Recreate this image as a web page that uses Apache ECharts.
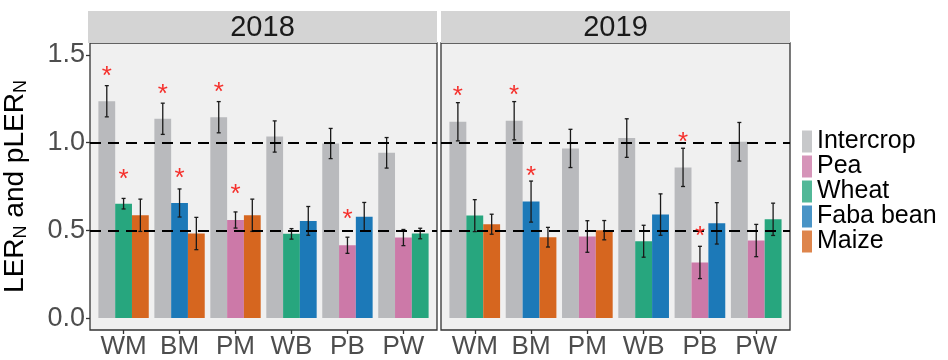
<!DOCTYPE html>
<html><head><meta charset="utf-8">
<script src="https://cdn.jsdelivr.net/npm/echarts@6/dist/echarts.min.js"></script>
<style>html,body{margin:0;padding:0;background:#fff}#c{width:948px;height:360px}</style>
</head><body><div id="c"></div>
<script>
// ---- data ----
const categories = ['WM', 'BM', 'PM', 'WB', 'PB', 'PW'];
const categoryPositions = [1, 2, 3, 4, 5, 6];
const years = ['2018', '2019'];
const cropNames = ['Intercrop', 'Pea', 'Wheat', 'Faba bean', 'Maize'];
const cropColors = ['#b9babd', '#cc79a8', '#27a67e', '#1c79b8', '#d6661f'];
const firstCrop = ['Wheat', 'Faba bean', 'Pea', 'Wheat', 'Pea', 'Pea'];
const secondCrop = ['Maize', 'Maize', 'Maize', 'Faba bean', 'Faba bean', 'Wheat'];

const intercrop2018 = [1.236, 1.136, 1.145, 1.035, 0.995, 0.942];
const intercropSE2018 = [0.089, 0.089, 0.089, 0.089, 0.086, 0.087];
const first2018 = [0.652, 0.656, 0.559, 0.480, 0.415, 0.459];
const firstSE2018 = [0.030, 0.080, 0.046, 0.030, 0.046, 0.046];
const second2018 = [0.586, 0.482, 0.586, 0.554, 0.578, 0.482];
const secondSE2018 = [0.092, 0.092, 0.092, 0.082, 0.081, 0.030];

const intercrop2019 = [1.119, 1.125, 0.967, 1.026, 0.859, 1.005];
const intercropSE2019 = [0.109, 0.109, 0.109, 0.110, 0.109, 0.110];
const first2019 = [0.584, 0.664, 0.465, 0.438, 0.317, 0.442];
const firstSE2019 = [0.091, 0.117, 0.090, 0.091, 0.092, 0.092];
const second2019 = [0.535, 0.461, 0.501, 0.590, 0.540, 0.563];
const secondSE2019 = [0.057, 0.056, 0.055, 0.118, 0.118, 0.092];

// significance stars: [category index (1-based), bar slot (0..2), y value]
const stars2018 = [[1, 0, 1.407], [1, 1, 0.823], [2, 0, 1.308], [2, 1, 0.829], [3, 0, 1.318], [3, 1, 0.734], [5, 1, 0.592]];
const stars2019 = [[1, 0, 1.293], [2, 0, 1.299], [2, 1, 0.838], [5, 0, 1.031], [5, 1, 0.497]];

const yTickValues = [0, 0.5, 1.0, 1.5];
const yTickLabels = ['0.0', '0.5', '1.0', '1.5'];
const referenceLines = [0.5, 1.0];
const yTitle = '{m|LER}{s|N}{m| and pLER}{s|N}';

// ---- layout / style ----
const FONT = 'Liberation Sans, Arial, Helvetica, sans-serif';
const panelLeft = [88, 441];
const panelWidth = 349;
const panelTop = 43;
const panelHeight = 288;
const stripTop = 11;
const stripHeight = 32;
const yMin = -0.068, yMax = 1.568;
const slotWidth = 0.3;

const perYear = [
  { vals: [intercrop2018, first2018, second2018], se: [intercropSE2018, firstSE2018, secondSE2018], stars: stars2018 },
  { vals: [intercrop2019, first2019, second2019], se: [intercropSE2019, firstSE2019, secondSE2019], stars: stars2019 }
];
const slotCrops = [categories.map(() => 'Intercrop'), firstCrop, secondCrop];
const colorOf = name => cropColors[cropNames.indexOf(name)];

const grids = [], xAxes = [], yAxes = [], series = [], graphics = [];

years.forEach((yr, k) => {
  grids.push({ left: panelLeft[k], top: panelTop, width: panelWidth, height: panelHeight,
    show: true, backgroundColor: '#f0f0f0', borderColor: '#333333', borderWidth: 1.3 });
  xAxes.push({ gridIndex: k, type: 'value', min: 0.4, max: 6.6, position: 'bottom',
    axisLine: { show: false, onZero: false }, splitLine: { show: false },
    axisTick: { show: true, customValues: categoryPositions, length: 4, lineStyle: { color: '#333333', width: 1.3 } },
    axisLabel: { customValues: categoryPositions, formatter: v => categories[categoryPositions.indexOf(Math.round(v))],
      fontSize: 26, color: '#4d4d4d', fontFamily: FONT, margin: 4 } });
  const yA = { gridIndex: k, type: 'value', min: yMin, max: yMax,
    axisLine: { show: false, onZero: false }, splitLine: { show: false } };
  if (k === 0) {
    yA.axisTick = { show: true, customValues: yTickValues, length: 4, lineStyle: { color: '#333333', width: 1.3 } };
    yA.axisLabel = { customValues: yTickValues, formatter: v => yTickLabels[yTickValues.indexOf(v)],
      fontSize: 27, color: '#4d4d4d', fontFamily: FONT, margin: 5 };
    yA.name = yTitle;
    yA.nameLocation = 'middle';
    yA.nameRotate = 90;
    yA.nameGap = 60;
    yA.nameTextStyle = { fontFamily: FONT, color: '#000',
      rich: { m: { fontSize: 28, lineHeight: 30, fontFamily: FONT, color: '#000' },
              s: { fontSize: 18, lineHeight: 12, verticalAlign: 'bottom', fontFamily: FONT, color: '#000' } } };
  } else {
    yA.axisTick = { show: false };
    yA.axisLabel = { show: false };
  }
  yAxes.push(yA);

  const d = perYear[k];
  // bars: three dodge slots per category
  for (let s = 0; s < 3; s++) {
    series.push({ type: 'bar', name: 'slot' + s + '_' + yr, xAxisIndex: k, yAxisIndex: k,
      barWidth: '30%', barGap: '0%', z: 2, silent: true,
      data: categories.map((c, i) => ({ value: [categoryPositions[i], d.vals[s][i]],
        itemStyle: { color: colorOf(slotCrops[s][i]) } })) });
  }
  // error bars + reference lines
  const errData = [];
  for (let s = 0; s < 3; s++) {
    categories.forEach((c, i) => errData.push([categoryPositions[i] + (s - 1) * slotWidth, d.vals[s][i], d.se[s][i]]));
  }
  series.push({ type: 'custom', name: 'err_' + yr, xAxisIndex: k, yAxisIndex: k, z: 5, silent: true,
    data: errData,
    renderItem: (params, api) => {
      const x = api.value(0), m = api.value(1), e = api.value(2);
      const t = api.coord([x, m + e]), b = api.coord([x, m - e]);
      const hw = 2;
      const st = { stroke: '#1a1a1a', lineWidth: 1.3 };
      return { type: 'group', children: [
        { type: 'line', shape: { x1: t[0], y1: t[1], x2: b[0], y2: b[1] }, style: st },
        { type: 'line', shape: { x1: t[0] - hw, y1: t[1], x2: t[0] + hw, y2: t[1] }, style: st },
        { type: 'line', shape: { x1: b[0] - hw, y1: b[1], x2: b[0] + hw, y2: b[1] }, style: st }
      ] };
    },
    markLine: { silent: true, symbol: 'none', label: { show: false }, z: 6,
      lineStyle: { color: '#000', width: 2, type: [11, 7] },
      data: referenceLines.map(v => ({ yAxis: v })) } });
  // stars
  series.push({ type: 'custom', name: 'stars_' + yr, xAxisIndex: k, yAxisIndex: k, z: 6, silent: true,
    data: d.stars.map(st => [st[0] + (st[1] - 1) * slotWidth, st[2]]),
    renderItem: (params, api) => {
      const p = api.coord([api.value(0), api.value(1)]);
      const fs = 26;
      return { type: 'text', x: p[0], y: p[1] + 0.22 * fs,
        style: { text: '*', fill: '#f5302c', fontSize: fs, fontFamily: FONT, align: 'center', verticalAlign: 'middle' } };
    } });

  // facet strip
  graphics.push({ type: 'rect', silent: true, shape: { x: panelLeft[k], y: stripTop, width: panelWidth, height: stripHeight },
    style: { fill: '#d4d4d4' } });
  graphics.push({ type: 'text', silent: true, x: panelLeft[k] + panelWidth / 2, y: stripTop + stripHeight / 2 + 1,
    style: { text: yr, fontSize: 29, fontFamily: FONT, fill: '#1a1a1a', align: 'center', verticalAlign: 'middle' } });
});

// legend entries
cropNames.forEach((n, i) => series.push({ type: 'scatter', name: n, xAxisIndex: 0, yAxisIndex: 0, data: [],
  itemStyle: { color: cropColors[i] } }));

const chart = echarts.init(document.getElementById('c'), null, { renderer: 'canvas' });
chart.setOption({
  animation: false,
  backgroundColor: '#ffffff',
  grid: grids, xAxis: xAxes, yAxis: yAxes, series: series, graphic: graphics,
  legend: { orient: 'vertical', left: 802, top: 129, padding: 0, itemWidth: 10, itemHeight: 22, itemGap: 0, icon: 'rect',
    selectedMode: false, data: cropNames,
    textStyle: { fontSize: 25, color: '#000', fontFamily: FONT, lineHeight: 22 } }
});
</script></body></html>
